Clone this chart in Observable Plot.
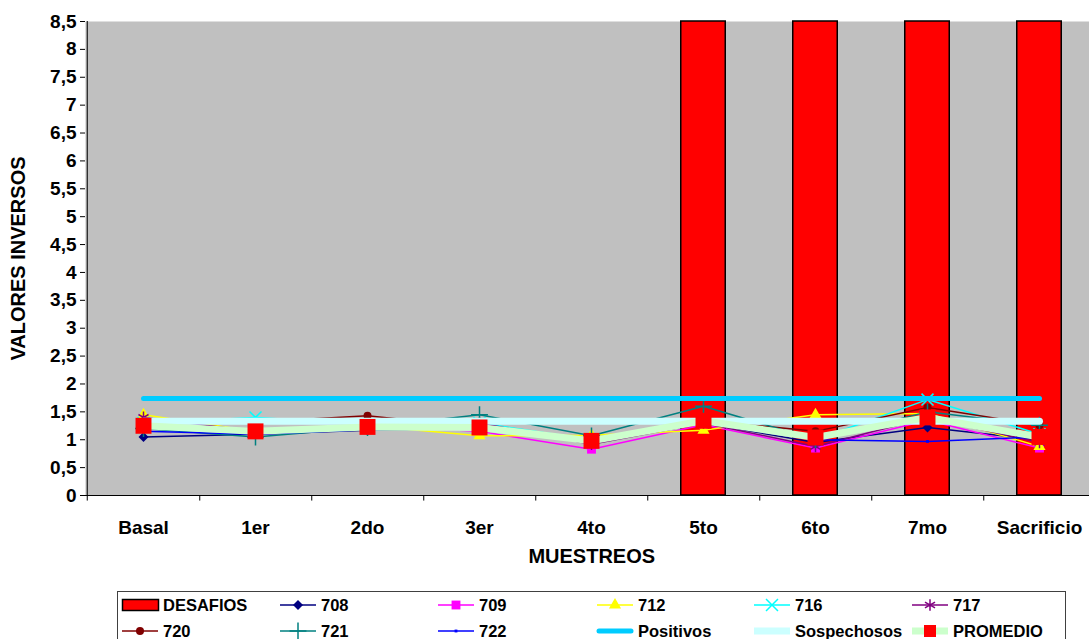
<!DOCTYPE html>
<html><head><meta charset="utf-8">
<script src="https://cdn.jsdelivr.net/npm/d3@7"></script>
<script src="https://cdn.jsdelivr.net/npm/@observablehq/plot@0.6"></script>
<style>
html,body{margin:0;padding:0;background:#fff;overflow:hidden;width:1089px;height:639px}
#wrap{position:relative;width:1089px;height:639px;overflow:hidden}
#wrap > svg:first-child{max-width:none !important}
#legend{position:absolute;left:0;top:585px}
</style></head><body><div id="wrap"></div>
<script>
const categories = ["Basal","1er","2do","3er","4to","5to","6to","7mo","Sacrificio"];
const yTicks = [0,0.5,1,1.5,2,2.5,3,3.5,4,4.5,5,5.5,6,6.5,7,7.5,8,8.5];
const desafios = [null,null,null,null,null,8.5,8.5,8.5,8.5];
const s708 = [1.05,1.10,1.17,1.20,1.00,1.30,0.95,1.22,1.00];
const s709 = [1.25,1.12,1.25,1.15,0.83,1.27,0.85,1.35,0.85];
const s712 = [1.45,1.15,1.25,1.07,1.08,1.17,1.45,1.47,0.88];
const s716 = [1.30,1.40,1.28,1.30,1.00,1.35,1.00,1.72,1.10];
const s717 = [1.40,1.15,1.25,1.30,0.92,1.30,0.88,1.40,0.95];
const s720 = [1.28,1.32,1.43,1.22,1.00,1.35,1.15,1.58,1.26];
const s721 = [1.20,1.05,1.22,1.45,1.07,1.60,1.00,1.50,1.26];
const s722 = [1.15,1.10,1.18,1.22,1.00,1.30,1.00,0.97,1.05];
const positivos = [1.74,1.74,1.74,1.74,1.74,1.74,1.74,1.74,1.74];
const sospechosos = [1.33,1.33,1.33,1.33,1.33,1.33,1.33,1.33,1.33];
const promedio = [1.25,1.15,1.23,1.22,0.98,1.34,1.04,1.40,1.05];

const seriesNames = ["708","709","712","716","717","720","721","722"];
const seriesValues = [s708,s709,s712,s716,s717,s720,s721,s722];
const seriesStyle = {
  "708": {color:"#000080", symbol:d3.symbolDiamond2, r:4.5, filled:true},
  "709": {color:"#ff00ff", symbol:d3.symbolSquare, r:5, filled:true},
  "712": {color:"#ffff00", symbol:d3.symbolTriangle, r:4.5, filled:true},
  "716": {color:"#00ffff", symbol:d3.symbolTimes, r:5.5, filled:false},
  "717": {color:"#800080", symbol:d3.symbolAsterisk, r:5.5, filled:false},
  "720": {color:"#800000", symbol:d3.symbolCircle, r:4, filled:true},
  "721": {color:"#008080", symbol:d3.symbolPlus, r:5.5, filled:false},
  "722": {color:"#0000ff", symbol:d3.symbolSquare, r:1.6, filled:true}
};

const toRows = vals => categories.map((c,i)=>({cat:c, v:vals[i]})).filter(d=>d.v!=null);
const fmt = d => String(d).replace(".", ",");

const marks = [
  Plot.frame({fill:"#c0c0c0", stroke:"none"}),
  Plot.barY(toRows(desafios), {x:"cat", y:"v", fill:"#ff0000", stroke:"#000", strokeWidth:1.5, insetLeft:33.75, insetRight:33.75}),
  Plot.ruleY([0], {stroke:"#000", strokeWidth:1}),
  Plot.ruleX(categories, {x:d=>d, dx:56.25, y1:0, y2:-0.1, stroke:"#000"}),
  Plot.ruleX([categories[0]], {x:d=>d, dx:-56.25, y1:-0.1, y2:8.5, stroke:"#000"})
];
seriesNames.forEach((n,k)=>{
  const st = seriesStyle[n];
  const rows = toRows(seriesValues[k]);
  marks.push(Plot.line(rows, {x:"cat", y:"v", stroke:st.color, strokeWidth:1.5}));
  marks.push(Plot.dot(rows, st.filled
    ? {x:"cat", y:"v", symbol:st.symbol, r:st.r, fill:st.color, stroke:"none"}
    : {x:"cat", y:"v", symbol:st.symbol, r:st.r, stroke:st.color, strokeWidth:1.5, fill:"none"}));
});
marks.push(Plot.line(toRows(positivos), {x:"cat", y:"v", stroke:"#00ccff", strokeWidth:5, strokeLinecap:"round"}));
marks.push(Plot.line(toRows(sospechosos), {x:"cat", y:"v", stroke:"#ccffff", strokeWidth:7, strokeLinecap:"round"}));
marks.push(Plot.line(toRows(promedio), {x:"cat", y:"v", stroke:"#ccffcc", strokeWidth:7}));
marks.push(Plot.dot(toRows(promedio), {x:"cat", y:"v", symbol:"square", r:9, fill:"#ff0000", stroke:"none"}));
marks.push(Plot.text(["MUESTREOS"], {frameAnchor:"bottom", dy:67, text:d=>d, fontSize:20, fontWeight:"bold"}));
marks.push(Plot.text(["VALORES INVERSOS"], {frameAnchor:"left", textAnchor:"middle", dx:-67, rotate:-90, text:d=>d, fontSize:20, fontWeight:"bold"}));

const chart = Plot.plot({
  width:1100, height:585,
  marginLeft:85, marginRight:2.5, marginTop:21, marginBottom:90,
  style:{fontFamily:"'Liberation Sans', Arial, sans-serif", fontSize:"19px", fontWeight:"bold", background:"white", color:"#000", overflow:"visible", maxWidth:"none"},
  x:{type:"band", domain:categories, padding:0, label:null, tickSize:0, tickPadding:25},
  y:{domain:[0,8.5], ticks:yTicks, tickFormat:fmt, label:null, tickSize:5, tickPadding:4},
  marks
});
chart.style.maxWidth = "none";
document.getElementById("wrap").appendChild(chart);

// Legend
const legendRow1 = ["DESAFIOS","708","709","712","716","717"];
const legendRow2 = ["720","721","722","Positivos","Sospechosos","PROMEDIO"];
const colStarts = [122,280,438,597,754,912];
const rowY = [20,46];
const svg = d3.create("svg").attr("id","legend").attr("width",1089).attr("height",54)
  .style("font-family","'Liberation Sans', Arial, sans-serif").style("font-weight","bold").style("font-size","16.5px");
svg.append("rect").attr("x",117.5).attr("y",6.5).attr("width",948).attr("height",60).attr("fill","white").attr("stroke","#404040");
[legendRow1, legendRow2].forEach((row, ri)=>{
  row.forEach((name, ci)=>{
    const x0 = colStarts[ci], y = rowY[ri], xm = x0+18;
    const g = svg.append("g");
    if (name === "DESAFIOS") {
      g.append("rect").attr("x",x0+0.5).attr("y",y-5.5).attr("width",36).attr("height",11).attr("fill","#ff0000").attr("stroke","#000").attr("stroke-width",1.5);
    } else if (name === "Positivos") {
      g.append("line").attr("x1",x0+2).attr("x2",x0+34).attr("y1",y).attr("y2",y).attr("stroke","#00ccff").attr("stroke-width",5).attr("stroke-linecap","round");
    } else if (name === "Sospechosos") {
      g.append("line").attr("x1",x0).attr("x2",x0+36).attr("y1",y).attr("y2",y).attr("stroke","#ccffff").attr("stroke-width",7);
    } else if (name === "PROMEDIO") {
      g.append("line").attr("x1",x0).attr("x2",x0+36).attr("y1",y).attr("y2",y).attr("stroke","#ccffcc").attr("stroke-width",7);
      g.append("rect").attr("x",xm-6).attr("y",y-6).attr("width",12).attr("height",12).attr("fill","#ff0000");
    } else {
      const st = seriesStyle[name];
      g.append("line").attr("x1",x0).attr("x2",x0+36).attr("y1",y).attr("y2",y).attr("stroke",st.color).attr("stroke-width",1.5);
      const path = d3.symbol(st.symbol, st.r*st.r*Math.PI)();
      const p = g.append("path").attr("d",path).attr("transform",`translate(${xm},${y})`);
      if (st.filled) p.attr("fill",st.color); else p.attr("fill","none").attr("stroke",st.color).attr("stroke-width",1.5);
    }
    g.append("text").attr("x",x0+41).attr("y",y).attr("dy","0.35em").text(name);
  });
});
document.getElementById("wrap").appendChild(svg.node());
</script></body></html>
